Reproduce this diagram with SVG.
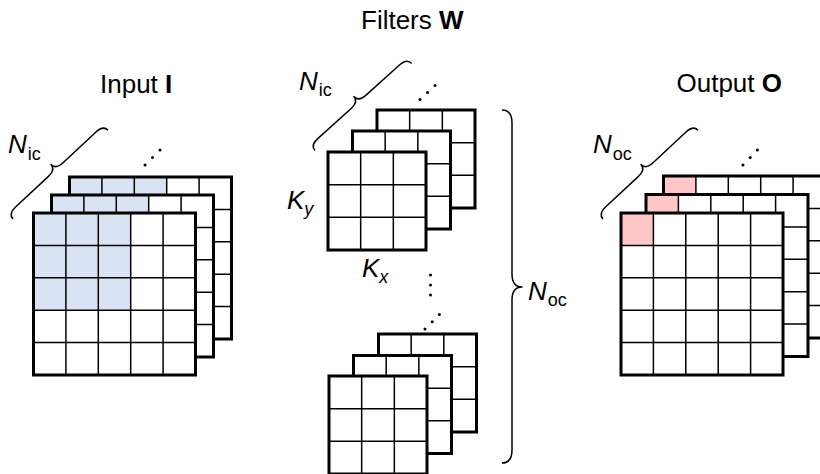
<svg xmlns="http://www.w3.org/2000/svg" xmlns:xlink="http://www.w3.org/1999/xlink" width="820" height="474" viewBox="0 0 820 474">
  <style>
    .bg { fill: #ffffff; }
    .in { fill: #dae3f3; }
    .out { fill: #ffc7c7; }
    .lines { fill: none; stroke: #000; stroke-width: 1.5; }
    .frame { fill: none; stroke: #000; stroke-width: 3; }
    .brace { fill: none; stroke: #000; stroke-width: 1.5; stroke-linejoin: round; }
    .dot { fill: #000; }
    .title { font-family: "Liberation Sans", Arial, sans-serif; font-size: 26px; fill: #000; }
    .var { font-family: "Liberation Sans", Arial, sans-serif; font-size: 26px; font-style: italic; fill: #000; }
    .sub { font-size: 18px; font-style: normal; }
    .subi { font-size: 18px; font-style: italic; }
  </style>
  <defs>
    <!-- 5x5 feature-map grid, 162 px square -->
    <g id="g5">
      <path class="lines" d="M32.4,0V162M64.8,0V162M97.2,0V162M129.6,0V162M0,32.4H162M0,64.8H162M0,97.2H162M0,129.6H162"/>
      <rect class="frame" x="0" y="0" width="162" height="162"/>
    </g>
    <!-- 3x3 kernel grid, 98 px square -->
    <g id="g3">
      <path class="lines" d="M32.67,0V98M65.33,0V98M0,32.67H98M0,65.33H98"/>
      <rect class="frame" x="0" y="0" width="98" height="98"/>
    </g>
    <!-- curly brace, 130 px long, tip towards -y -->
    <path id="br" class="brace" d="M0,0 Q0,-7 10,-7 L55,-7 Q65,-7 65,-14 Q65,-7 75,-7 L120,-7 Q130,-7 130,0"/>
  </defs>

  <!-- Input tensor stack -->
  <g id="input">
    <text class="title" x="100" y="92.5">Input <tspan font-weight="bold">I</tspan></text>
    <rect class="bg" x="69.5" y="177" width="162" height="162"/>
    <rect class="in" x="69.5" y="177" width="97.2" height="97.2"/>
    <use xlink:href="#g5" x="69.5" y="177"/>
    <rect class="bg" x="51.5" y="195" width="162" height="162"/>
    <rect class="in" x="51.5" y="195" width="97.2" height="97.2"/>
    <use xlink:href="#g5" x="51.5" y="195"/>
    <rect class="bg" x="33.5" y="213" width="162" height="162"/>
    <rect class="in" x="33.5" y="213" width="97.2" height="97.2"/>
    <use xlink:href="#g5" x="33.5" y="213"/>
    <text class="var" x="8" y="153">N<tspan class="sub" dx="1" dy="7">ic</tspan></text>
    <circle class="dot" cx="145" cy="165" r="1.5"/>
    <circle class="dot" cx="152.5" cy="157.5" r="1.5"/>
    <circle class="dot" cx="160" cy="150" r="1.5"/>
  </g>

  <!-- Filter bank: title -->
  <g id="filters-title">
    <text class="title" x="361" y="29">Filters <tspan font-weight="bold">W</tspan></text>
  </g>

  <!-- First filter (N_ic kernels) -->
  <g id="filter-first">
    <rect class="bg" x="377" y="110" width="98" height="98"/>
    <use xlink:href="#g3" x="377" y="110"/>
    <rect class="bg" x="352.5" y="131" width="98" height="98"/>
    <use xlink:href="#g3" x="352.5" y="131"/>
    <rect class="bg" x="328" y="152" width="98" height="98"/>
    <use xlink:href="#g3" x="328" y="152"/>
    <text class="var" x="299" y="90">N<tspan class="sub" dx="1" dy="6">ic</tspan></text>
    <text class="var" x="287" y="209">K<tspan class="subi" dx="0" dy="6">y</tspan></text>
    <text class="var" x="362" y="276.5">K<tspan class="subi" dx="0" dy="6">x</tspan></text>
    <circle class="dot" cx="420" cy="99.5" r="1.5"/>
    <circle class="dot" cx="427.5" cy="92.5" r="1.5"/>
    <circle class="dot" cx="435" cy="85.5" r="1.5"/>
  </g>

  <!-- Last filter -->
  <g id="filter-last">
    <circle class="dot" cx="430.5" cy="275" r="1.5"/>
    <circle class="dot" cx="430.5" cy="285" r="1.5"/>
    <circle class="dot" cx="430.5" cy="295" r="1.5"/>
    <circle class="dot" cx="425" cy="329" r="1.5"/>
    <circle class="dot" cx="432.2" cy="321.7" r="1.5"/>
    <circle class="dot" cx="439.4" cy="314.4" r="1.5"/>
    <rect class="bg" x="378.5" y="334" width="98" height="98"/>
    <use xlink:href="#g3" x="378.5" y="334"/>
    <rect class="bg" x="353.5" y="355.5" width="98" height="98"/>
    <use xlink:href="#g3" x="353.5" y="355.5"/>
    <rect class="bg" x="329" y="376" width="98" height="98"/>
    <use xlink:href="#g3" x="329" y="376"/>
  </g>

  <!-- Output tensor stack -->
  <g id="output">
    <text class="title" x="676.5" y="92">Output <tspan font-weight="bold">O</tspan></text>
    <rect class="bg" x="663.5" y="176" width="162" height="162"/>
    <rect class="out" x="663.5" y="176" width="32.4" height="32.4"/>
    <use xlink:href="#g5" x="663.5" y="176"/>
    <rect class="bg" x="646" y="194.5" width="162" height="162"/>
    <rect class="out" x="646" y="194.5" width="32.4" height="32.4"/>
    <use xlink:href="#g5" x="646" y="194.5"/>
    <rect class="bg" x="621" y="213" width="162" height="162"/>
    <rect class="out" x="621" y="213" width="32.4" height="32.4"/>
    <use xlink:href="#g5" x="621" y="213"/>
    <text class="var" x="593" y="153">N<tspan class="sub" dx="1" dy="7">oc</tspan></text>
    <circle class="dot" cx="743" cy="165" r="1.5"/>
    <circle class="dot" cx="750.2" cy="157.5" r="1.5"/>
    <circle class="dot" cx="757.4" cy="150" r="1.5"/>
  </g>

  <!-- Braces grouping the channel dimensions -->
  <g id="braces">
    <use xlink:href="#br" transform="translate(13,219) rotate(-43)"/>
    <use xlink:href="#br" transform="translate(315,150.5) rotate(-42)"/>
    <use xlink:href="#br" transform="translate(603,219) rotate(-43)"/>
    <path class="brace" d="M502,110 Q512,110 512,123 L512,274 Q512,287 522,287 Q512,287 512,300 L512,450 Q512,463 502,463"/>
    <text class="var" x="528" y="300">N<tspan class="sub" dx="1" dy="6">oc</tspan></text>
  </g>
</svg>
